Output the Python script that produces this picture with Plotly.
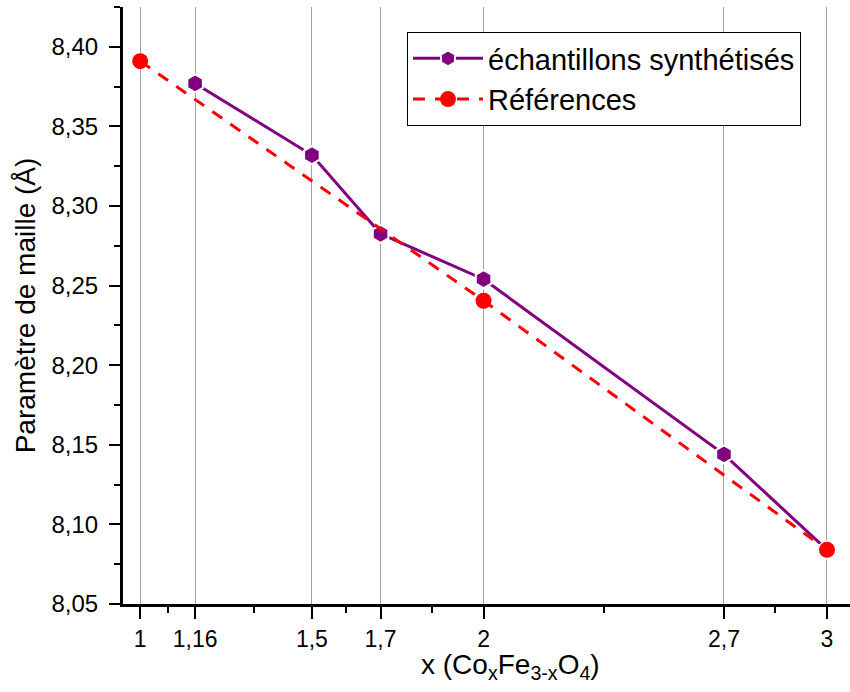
import plotly.graph_objects as go

# Data
x_synth = [1.16, 1.5, 1.7, 2, 2.7, 3]
a_synth = [8.377, 8.332, 8.2825, 8.254, 8.144, 8.084]

x_ref = [1, 2, 3]
a_ref = [8.391, 8.2405, 8.084]

x_tickvals = [1, 1.16, 1.5, 1.7, 2, 2.7, 3]
x_ticktext = ["1", "1,16", "1,5", "1,7", "2", "2,7", "3"]
x_minorvals = [(a + b) / 2 for a, b in zip(x_tickvals[:-1], x_tickvals[1:])]

x_title = "x (Co<sub>x</sub>Fe<sub>3-x</sub>O<sub>4</sub>)"
y_title = "Paramètre de maille (Å)"

FONT = "Liberation Sans, Arial, sans-serif"

fig = go.Figure()
fig.add_trace(go.Scatter(
    x=x_synth, y=a_synth, mode="lines+markers",
    name="échantillons synthétisés",
    line=dict(color="#800080", width=3),
    marker=dict(symbol="hexagon", size=18, color="#800080",
                line=dict(color="white", width=2)),
))
fig.add_trace(go.Scatter(
    x=x_ref, y=a_ref, mode="lines+markers",
    name="Références",
    line=dict(color="#ff0000", width=3, dash="12px,10px"),
    marker=dict(symbol="circle", size=16, color="#ff0000"),
))

fig.update_layout(
    width=850, height=692,
    margin=dict(l=123, r=0, t=7, b=88, autoexpand=False),
    paper_bgcolor="white", plot_bgcolor="white",
    separators=", ",
    font=dict(family=FONT, color="black"),
    showlegend=True,
    legend=dict(
        x=(407 - 123) / 727, y=1 - (32 - 7) / 597,
        xanchor="left", yanchor="top",
        bgcolor="white", bordercolor="black", borderwidth=1,
        font=dict(size=29, family=FONT, color="black"),
        itemwidth=70,
    ),
    annotations=[dict(
        text=x_title, xref="paper", yref="paper",
        x=(510 - 123) / 727, y=-63 / 597,
        xanchor="center", yanchor="middle", showarrow=False,
        font=dict(size=28, family=FONT, color="black"),
    )],
)

fig.update_xaxes(
    range=[0.95, 3.067], automargin=False,
    tickmode="array", tickvals=x_tickvals, ticktext=x_ticktext,
    showgrid=True, gridcolor="#a0a0a0", gridwidth=1,
    zeroline=False,
    showline=True, linecolor="black", linewidth=3,
    ticks="outside", ticklen=12, tickwidth=2, tickcolor="black",
    tickfont=dict(size=23, family=FONT),
    minor=dict(tickmode="array", tickvals=x_minorvals, ticks="outside",
               ticklen=6, tickwidth=2, tickcolor="black", showgrid=False),
)

fig.update_yaxes(
    range=[8.05, 8.425], automargin=False,
    tick0=8.05, dtick=0.05, tickformat=".2f",
    showgrid=False, zeroline=False,
    showline=True, linecolor="black", linewidth=3,
    ticks="outside", ticklen=11, tickwidth=2, tickcolor="black",
    tickfont=dict(size=24, family=FONT), ticklabelstandoff=6,
    minor=dict(dtick=0.025, ticks="outside", ticklen=6, tickwidth=2,
               tickcolor="black", showgrid=False),
    title=dict(text=y_title, font=dict(size=28, family=FONT), standoff=8),
)

fig.write_html("out.html",
               config={"displayModeBar": False},
               post_script="document.body.style.margin='0';document.body.style.padding='0';")
